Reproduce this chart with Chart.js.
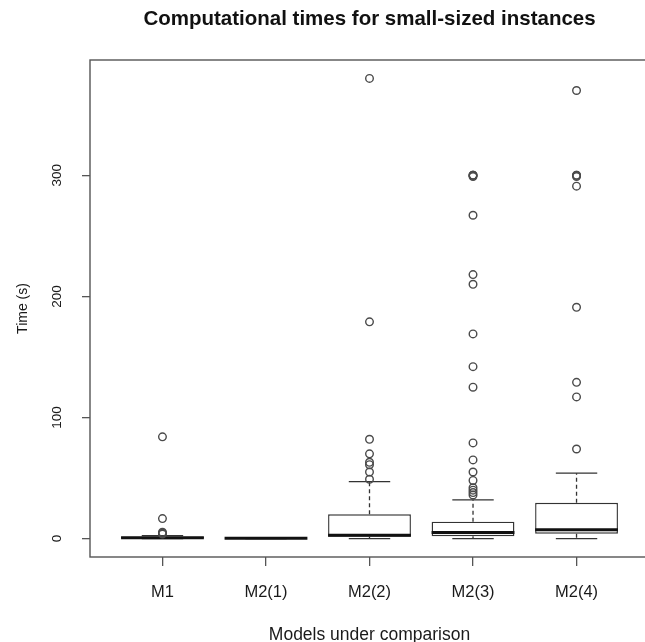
<!DOCTYPE html>
<html>
<head>
<meta charset="utf-8">
<script src="https://cdn.jsdelivr.net/npm/chart.js@4"></script>
<style>
html, body { margin: 0; padding: 0; background: #fff; overflow: hidden; }
#wrap { width: 660px; height: 642px; }
</style>
</head>
<body>
<div id="wrap"><canvas id="box"></canvas></div>
<script>
// box summaries (seconds)
const models = ['M1', 'M2(1)', 'M2(2)', 'M2(3)', 'M2(4)'];
const lowerWhisker = [0, 0, 0, 0, 0];
const q1 = [0.2, 0.1, 1.5, 2, 4];
const median = [0.6, 0.2, 2.7, 5, 7.4];
const q3 = [1.6, 0.4, 20, 14, 29.5];
const upperWhisker = [2.5, 0.8, 47, 32, 54];
const outliers = [
    [3.8, 4.5, 5.2, 16.5, 84],
    [],
    [49, 55, 61, 63, 70, 82, 179, 380],
    [36, 38, 40, 42, 48, 55, 65, 79, 125, 142, 169, 210, 218, 267, 299, 300, 300, 300],
    [74, 117, 129, 191, 291, 299, 300, 300, 370]
];
const yTicks = [0, 100, 200, 300];

Chart.defaults.font.family = "'Liberation Sans', Arial, sans-serif";
Chart.defaults.color = '#1a1a1a';

outlierPoints = [];
outliers.forEach((list, i) => {
    list.forEach(v => outlierPoints.push({x: i + 1, y: v}));
});
boxes = models.map((m, i) => ({x: i + 1, y: [q1[i], q3[i]]}));

// whiskers, staples and medians on top of the boxes
const boxParts = {
    id: 'boxParts',
    afterDatasetDraw(chart, args) {
        if (args.index !== 1) return;
        const ctx = chart.ctx, y = chart.scales.y;
        args.meta.data.forEach((bar, i) => {
            const x = bar.x, w = bar.width;
            ctx.save();
            ctx.strokeStyle = '#333';
            ctx.lineWidth = 1.3;
            ctx.setLineDash([4, 3]);
            ctx.beginPath();
            ctx.moveTo(x, y.getPixelForValue(q3[i]));
            ctx.lineTo(x, y.getPixelForValue(upperWhisker[i]));
            ctx.moveTo(x, y.getPixelForValue(q1[i]));
            ctx.lineTo(x, y.getPixelForValue(lowerWhisker[i]));
            ctx.stroke();
            ctx.setLineDash([]);
            ctx.beginPath();
            [upperWhisker[i], lowerWhisker[i]].forEach(v => {
                const py = y.getPixelForValue(v);
                ctx.moveTo(x - w / 4, py);
                ctx.lineTo(x + w / 4, py);
            });
            ctx.stroke();
            ctx.lineWidth = 3;
            ctx.strokeStyle = '#111';
            ctx.beginPath();
            const pm = y.getPixelForValue(median[i]);
            ctx.moveTo(x - w / 2, pm);
            ctx.lineTo(x + w / 2, pm);
            ctx.stroke();
            ctx.restore();
        });
    }
};

const frame = {
    id: 'frame',
    afterDraw(chart) {
        const a = chart.chartArea, ctx = chart.ctx;
        ctx.save();
        ctx.strokeStyle = '#555';
        ctx.lineWidth = 1.4;
        ctx.strokeRect(a.left, a.top, a.right - a.left, a.bottom - a.top);
        ctx.restore();
    }
};

new Chart(document.getElementById('box'), {
    type: 'bar',
    data: {
        datasets: [{
            type: 'scatter',
            data: outlierPoints,
            pointStyle: 'circle',
            pointRadius: 3.8,
            pointBorderWidth: 1.4,
            pointBorderColor: '#4a4a4a',
            pointBackgroundColor: 'rgba(0,0,0,0)'
        }, {
            data: boxes,
            backgroundColor: '#fff',
            borderColor: '#333',
            borderWidth: 1.4,
            borderSkipped: false,
            categoryPercentage: 0.8,
            barPercentage: 1
        }]
    },
    options: {
        responsive: true,
        maintainAspectRatio: false,
        animation: false,
        layout: {padding: {left: 0, right: 11, top: 0, bottom: 0}},
        plugins: {
            legend: {display: false},
            tooltip: {enabled: false},
            title: {
                display: true,
                text: 'Computational times for small-sized instances',
                fullSize: false,
                color: '#111',
                font: {size: 20.5, weight: 'bold'},
                padding: {top: 6.7, bottom: 28.7}
            }
        },
        scales: {
            x: {
                type: 'linear',
                min: 0.3,
                max: 5.7,
                offset: false,
                afterBuildTicks: s => { s.ticks = models.map((m, i) => ({value: i + 1})); },
                afterFit: s => { s.height = 85; },
                grid: {offset: false, drawOnChartArea: false, tickLength: 9, color: '#555', lineWidth: 1.3},
                border: {display: false},
                ticks: {
                    callback: v => models[v - 1],
                    font: {size: 16.5},
                    padding: 17,
                    maxRotation: 0
                },
                title: {display: true, text: 'Models under comparison', font: {size: 17.5}, padding: {top: 4, bottom: -4}}
            },
            y: {
                min: -15.2,
                max: 395.2,
                afterBuildTicks: s => { s.ticks = yTicks.map(v => ({value: v})); },
                afterFit: s => { s.width = 90; },
                grid: {drawOnChartArea: false, tickLength: 8, color: '#555', lineWidth: 1.3},
                border: {display: false},
                ticks: {
                    font: {size: 13.5},
                    minRotation: 90,
                    maxRotation: 90,
                    crossAlign: 'center',
                    padding: 13
                },
                title: {display: true, text: 'Time (s)', font: {size: 14}, padding: {top: 15, bottom: 0}}
            }
        }
    },
    plugins: [boxParts, frame]
});
</script>
</body>
</html>
